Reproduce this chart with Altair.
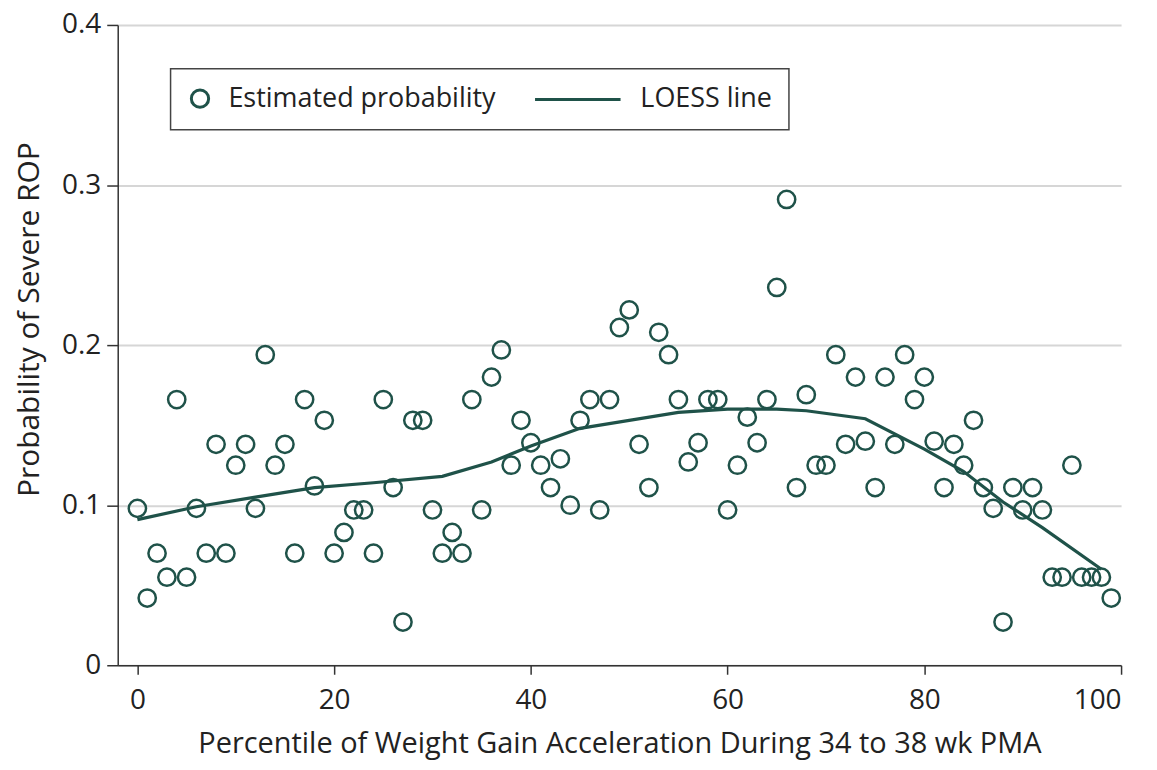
import altair as alt
import pandas as pd

# ---- data ----
percentile = list(range(100))
probability = [
    0.098, 0.042, 0.070, 0.055, 0.166, 0.055, 0.098, 0.070, 0.138, 0.070,
    0.125, 0.138, 0.098, 0.194, 0.125, 0.138, 0.070, 0.166, 0.112, 0.153,
    0.070, 0.083, 0.097, 0.097, 0.070, 0.166, 0.111, 0.027, 0.153, 0.153,
    0.097, 0.070, 0.083, 0.070, 0.166, 0.097, 0.180, 0.197, 0.125, 0.153,
    0.139, 0.125, 0.111, 0.129, 0.100, 0.153, 0.166, 0.097, 0.166, 0.211,
    0.222, 0.138, 0.111, 0.208, 0.194, 0.166, 0.127, 0.139, 0.166, 0.166,
    0.097, 0.125, 0.155, 0.139, 0.166, 0.236, 0.291, 0.111, 0.169, 0.125,
    0.125, 0.194, 0.138, 0.180, 0.140, 0.111, 0.180, 0.138, 0.194, 0.166,
    0.180, 0.140, 0.111, 0.138, 0.125, 0.153, 0.111, 0.098, 0.027, 0.111,
    0.097, 0.111, 0.097, 0.055, 0.055, 0.125, 0.055, 0.055, 0.055, 0.042,
]

loess_x = [0, 6, 12, 18, 24, 31, 36, 40, 45, 50, 55, 60, 65, 68, 74, 80, 84, 88, 92, 98]
loess_y = [0.091, 0.099, 0.105, 0.111, 0.114, 0.118, 0.127, 0.137, 0.148, 0.153,
           0.158, 0.160, 0.160, 0.159, 0.154, 0.135, 0.121, 0.102, 0.086, 0.060]

series_names = ["Estimated probability", "LOESS line"]
x_ticks = [0, 20, 40, 60, 80, 100]
y_ticks = [0, 0.1, 0.2, 0.3, 0.4]

COLOR = "#1f5249"
FONT = "Open Sans"

pts = pd.DataFrame({"x": percentile, "y": probability, "series": series_names[0]})
lo = pd.DataFrame({"x": loess_x, "y": loess_y})

xscale = alt.Scale(domain=[-2, 100], nice=False, zero=False)
yscale = alt.Scale(domain=[0, 0.4], nice=False)

xaxis = alt.Axis(values=x_ticks, grid=False, title="Percentile of Weight Gain Acceleration During 34 to 38 wk PMA",
                 labelPadding=12, titlePadding=15, tickSize=9)
yaxis = alt.Axis(values=y_ticks, grid=True, title="Probability of Severe ROP",
                 labelExpr="datum.value == 0 ? '0' : format(datum.value, '.1f')",
                 labelPadding=6, tickSize=11, titlePadding=17, titleFontSize=30, titleY=295)

points = alt.Chart(pts).mark_point(filled=False, strokeWidth=2.5, size=300, color=COLOR, opacity=1).encode(
    x=alt.X("x:Q", scale=xscale, axis=xaxis),
    y=alt.Y("y:Q", scale=yscale, axis=yaxis),
    shape=alt.Shape(
        "series:N",
        scale=alt.Scale(domain=series_names, range=["circle", "M-8.9,0L1,0"]),
        legend=alt.Legend(
            title=None, orient="none", legendX=53, legendY=44, direction="horizontal", columns=2,
            strokeColor="#444", padding=16, fillColor="white",
            labelFont=FONT, labelFontSize=27, labelColor="#222", labelOffset=15, labelLimit=600,
            symbolSize=300, symbolStrokeWidth=3, symbolStrokeColor=COLOR, symbolFillColor="transparent",
            columnPadding=32, symbolOpacity=1,
        ),
    ),
)

line = alt.Chart(lo).mark_line(color=COLOR, strokeWidth=3.2).encode(
    x=alt.X("x:Q", scale=xscale),
    y=alt.Y("y:Q", scale=yscale),
)

chart = alt.layer(line, points).properties(
    width=1006, height=642,
    autosize=alt.AutoSizeParams(type="none"),
    padding={"left": 110, "top": 16, "right": 28, "bottom": 96},
    background="white",
).configure_view(stroke=None).configure_axis(
    domainColor="#333", domainWidth=1.5, tickColor="#333", tickWidth=1.5,
    labelFont=FONT, labelFontSize=28, labelColor="#222",
    titleFont=FONT, titleFontSize=29, titleFontWeight="normal", titleColor="#222",
    gridColor="#d6d6d6", gridWidth=2,
).configure_legend(strokeWidth=1.5)

chart.save("out.html", embed_options={"renderer": "svg", "actions": False})
